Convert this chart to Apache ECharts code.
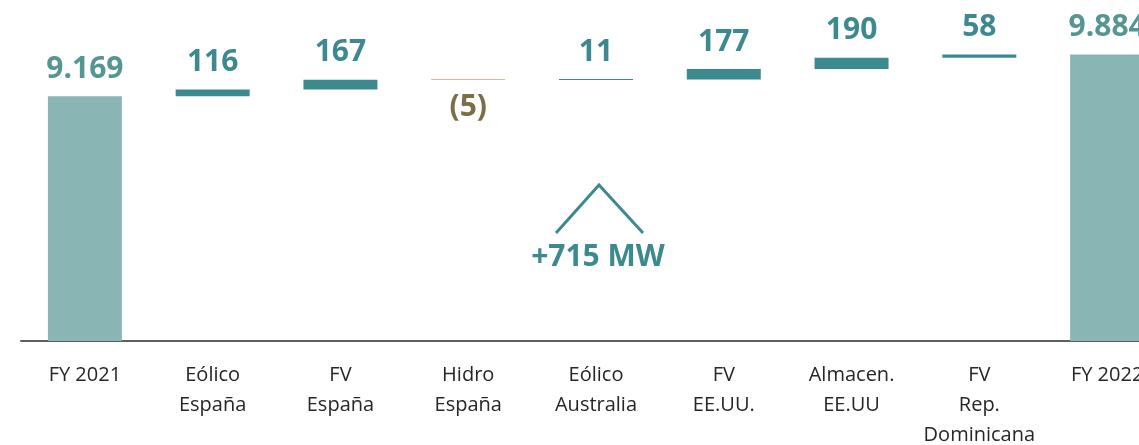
<!DOCTYPE html>
<html>
<head>
<meta charset="utf-8">
<style>
  html, body { margin: 0; padding: 0; background: #fff; }
  #chart { width: 1139px; height: 445px; }
</style>
<script src="https://cdn.jsdelivr.net/npm/echarts@6/dist/echarts.min.js"></script>
</head>
<body>
<div id="chart"></div>
<script>
// categorías del puente de capacidad (MW)
const categories = ['FY 2021', 'Eólico\nEspaña', 'FV\nEspaña', 'Hidro\nEspaña', 'Eólico\nAustralia',
  'FV\nEE.UU.', 'Almacen.\nEE.UU', 'FV\nRep.\nDominicana', 'FY 2022']
const totals = [9169, null, null, null, null, null, null, null, 9884]
const deltas = [null, 116, 167, -5, 11, 177, 190, 58, null]
const summaryText = '+715 MW'

const teal = '#3d8990'
const totalColor = '#8ab5b5'
const totalLabel = '#559592'
const negColor = '#cdbf9f'
const negLabel = '#7b6f47'

// base invisible del waterfall
const base = []
const ups = []
const downs = []
let running = 0
categories.forEach((c, i) => {
  if (totals[i] != null) {
    running = totals[i]
    base.push('-'); ups.push('-'); downs.push('-')
    return
  }
  const d = deltas[i]
  if (d >= 0) {
    base.push(running); ups.push(d); downs.push('-')
  } else {
    base.push(running + d); ups.push('-'); downs.push(-d)
  }
  running += d
})

const fmtThousands = (v) => String(v).replace(/\B(?=(\d{3})+(?!\d))/g, '.')

const labelFont = 30

const chart = echarts.init(document.getElementById('chart'))

const option = {
  animation: false,
  textStyle: { fontFamily: 'Open Sans' },
  grid: { left: 21, right: -32, top: 30, bottom: 104, containLabel: false, outerBoundsMode: 'none' },
  xAxis: {
    type: 'category',
    data: categories,
    axisTick: { show: false },
    axisLine: { lineStyle: { color: '#5e5e5e', width: 2 } },
    axisLabel: {
      interval: 0,
      margin: 19,
      fontSize: 20,
      lineHeight: 30,
      color: '#262626',
      fontFamily: 'Open Sans'
    }
  },
  yAxis: {
    type: 'value',
    min: 5000,
    max: 10300,
    show: false,
    splitLine: { show: false }
  },
  series: [
    {
      name: 'base',
      type: 'bar',
      stack: 'w',
      barWidth: 74,
      itemStyle: { color: 'transparent' },
      data: base,
      silent: true
    },
    {
      name: 'up',
      type: 'bar',
      stack: 'w',
      barWidth: 74,
      barMinHeight: 1,
      itemStyle: { color: teal },
      label: {
        show: true,
        position: 'top',
        distance: 12,
        fontSize: labelFont,
        fontWeight: 'bold',
        color: teal,
        fontFamily: 'Open Sans'
      },
      data: ups
    },
    {
      name: 'down',
      type: 'bar',
      stack: 'w',
      barWidth: 74,
      barMinHeight: 1,
      itemStyle: { color: negColor },
      label: {
        show: true,
        position: 'bottom',
        distance: 12,
        fontSize: labelFont,
        fontWeight: 'bold',
        color: negLabel,
        fontFamily: 'Open Sans',
        formatter: (p) => '(' + p.value + ')'
      },
      data: downs
    },
    {
      name: 'total',
      type: 'bar',
      stack: 'w',
      barWidth: 74,
      clip: true,
      itemStyle: { color: totalColor },
      label: {
        show: true,
        position: 'top',
        distance: 12,
        fontSize: labelFont,
        fontWeight: 'bold',
        color: totalLabel,
        fontFamily: 'Open Sans',
        formatter: (p) => fmtThousands(p.value)
      },
      data: totals.map(v => v == null ? '-' : v)
    }
  ],
  graphic: [
    {
      type: 'polyline',
      shape: { points: [[556, 233], [599, 185], [643, 233]] },
      style: { stroke: teal, lineWidth: 3, fill: null }
    },
    {
      type: 'text',
      x: 598,
      y: 257,
      style: {
        text: summaryText,
        fill: teal,
        fontSize: labelFont,
        fontWeight: 'bold',
        fontFamily: 'Open Sans',
        align: 'center',
        verticalAlign: 'middle'
      }
    }
  ]
}

chart.setOption(option)
</script>
</body>
</html>
